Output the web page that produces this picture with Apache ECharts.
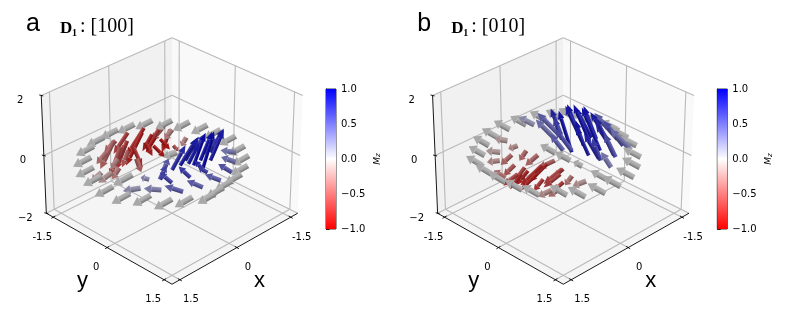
<!DOCTYPE html>
<html>
<head>
<meta charset="utf-8">
<style>html,body{margin:0;background:#fff}#main{width:793px;height:324px}</style>
<script src="https://cdn.jsdelivr.net/npm/echarts@6/dist/echarts.min.js"></script>
</head>
<body>
<div id="main"></div>
<script>
// axis setup
const ticksXY = [-1.5, 0, 1.5];
const tickLabelsXY = ['-1.5', '0', '1.5'];
const ticksZ = [-2, 0, 2];
const tickLabelsZ = ['\u22122', '0', '2'];
const colorTicks = [-1, -0.5, 0, 0.5, 1];
const limXY = 1.7;
const limZ = 2;
const readScale = 1.7 / 1.5;
const readDepth = 0.098;

// outer ring, panel a: tail x, y
const ringA = [[1.255,.305],[1.056,.576],[.887,.887],[.62,1.08],[.294,1.266],[.076,1.244],[-.15,1.21],[-.41,1.19],
  [-.668,1.088],[-.9,.9],[-1.07,.65],[-1.185,.335],[-1.15,.017],[-1.1,-.247],[-.957,-.533],[-.78,-.78],[-.54,-1.02],
  [-.235,-1.145],[.08,-1.22],[.41,-1.21],[.725,-1.125],[.98,-.91],[1.154,-.658],[1.235,-.385],[1.31,-.03]];
const ringDirA = [.4, 0, 0];
// x, y, u, v, w (w is also Mz)
const redA = [[.35,-.99,.11,-.17,-.45],[.7,-.84,.12,-.12,-.4],[.03,-1.03,.2,-.15,-.7],[.355,-.775,.155,-.095,-.7],
  [.7,-.56,.11,-.05,-.3],[-.265,-.94,.29,-.14,-.85],[.41,-.62,.09,-.06,-.55],[.28,-.63,-.17,.03,-.8],
  [-.22,-.7,-.08,-.32,-.9],[.034,-.6,-.35,-.19,-.9],[-.19,-.59,-.15,-.39,-.95],[-.54,-.74,.165,-.145,-.5],
  [.01,-.43,-.48,-.2,-.95],[1.165,-.455,.17,-.06,-.2],[1.045,-.335,.245,-.065,-.2],[.87,-.35,.105,-.065,-.35],
  [-.57,-.57,.12,-.06,-.3],[-.215,-.495,-.49,-.26,-.95],[-.56,-.22,.06,-.06,-.3],[-.23,-.2,-.32,-.2,-.6],
  [-.143,-.857,.35,-.04,-.9],[.213,-.853,.31,.04,-.75],[.37,-1.01,.45,.14,-.5],[-.407,-.727,.12,-.19,-.75],
  [-.543,-.591,.07,-.13,-.85],[.486,-.346,-.08,.03,-.5],[.43,-.79,.39,.15,-.6]];
const grayInnerA = [[-.125,-.015,.26,-.05,0],[.855,-.055,.43,0,0]];
const blueA = [[.305,.305,-.175,.135,.8],[.116,.304,-.21,.18,.9],[-.013,.367,.01,.25,.9],[-.04,.46,-.19,.08,1],
  [-.045,.655,-.32,-.05,1],[-.34,.553,-.24,.07,.9],[-.425,.355,0,.23,.7],[.64,.36,.04,.19,.65],[.25,.67,.34,.07,.7],
  [-.055,.765,.44,.21,.7],[-.823,.683,.37,-.01,.35],[-.6,.88,.315,-.035,.4],[-.335,1.045,.33,0,.55],
  [-.037,1.077,.37,0,.5],[.31,1.01,.35,-.02,.5],[.62,.87,.39,-.03,.5],[.567,.567,.325,.05,.65],[.83,.59,.345,-.045,.3],
  [1.03,.317,.37,-.02,.2],[.76,.24,.2,.01,.25],[-.047,.26,-.125,.185,.85],[-.224,.436,-.15,.12,.95],
  [-.517,.377,-.125,.185,.85],[-.32,.18,-.07,.21,.75],[.42,.22,0,.12,.5],[-.05,.69,.4,.17,.8]];

// outer ring, panel b: tail x, y
const ringB = [[-.57,-.99],[-.227,-1.12],[.076,-1.21],[.39,-1.17],[.665,-1.09],[.918,-.918],[1.15,-.724],[1.21,-.43],
  [1.216,-.11],[1.177,.243],[1.086,.546],[.773,.859],[.6,1.1],[.305,1.255],[-.01,1.29],[-.35,1.27],[-.636,1.136],
  [-.871,.941],[-1.08,.654],[-1.16,.38],[-1.217,.083],[-.8,-.83],[-.99,-.71],[-1.08,-.48],[-1.19,-.2]];
const ringDirB = [0, -.4, 0];
const grayInnerB = [[.037,-.151,0,-.36,0],[.024,.188,0,-.36,0],[.007,.447,0,-.2,0],[0,.99,0,-.36,0]];
const redB = [[.343,-.983,.017,-.297,-.15],[.67,-.81,.05,-.3,-.15],[.846,-.634,.037,-.277,-.25],[1.12,-.2,-.235,-.545,-.4],
  [.327,-.753,.03,-.2,-.25],[.59,-.618,.07,-.2,-.45],[.33,-.54,.02,-.15,-.45],[.284,-.312,.1,-.2,-.45],
  [.765,-.365,.02,-.25,-.55],[.697,-.197,-.03,-.27,-.7],[.206,.006,.045,-.345,-.5],[.367,-.013,.08,-.35,-.85],
  [.7,.08,-.005,-.395,-.9],[.876,-.096,-.07,-.34,-.85],[.726,.266,-.1,-.33,-.75],[.425,.355,.045,-.345,-.7],
  [.705,.635,.07,-.2,-.4],[.284,.284,-.22,-.42,-.75],[.325,.525,.03,-.13,-.4],[.27,.79,.14,-.17,-.2],
  [.553,.553,-.2,-.4,-.75],[.843,.577,.14,-.17,-.25],[.46,-.04,.155,-.355,-.85],[.3,.268,.1,-.33,-.7],
  [.728,-.088,-.05,-.36,-.85],[.915,-.135,-.01,-.36,-.7]];
const blueB = [[-.298,.298,.105,-.205,.9],[-.68,-.32,.12,-.15,.95],[-.75,.04,.035,-.275,.95],[-.727,-.053,.145,-.245,.95],
  [-.33,.54,.07,-.13,.7],[-.853,.213,.165,-.265,.9],[-.92,.497,.07,-.4,.6],[-.577,.647,.01,-.26,.6],[-.303,.803,.01,-.22,.35],
  [-.206,-.006,.105,-.285,.6],[-.276,-.504,.075,-.355,.4],[-.324,-1.024,.14,-.25,.2],[-.465,-.535,.13,-.1,.85],
  [-.34,-.37,.07,-.13,.7],[-.106,-.106,.11,-.2,.5],[-1,.295,.015,-.535,.5],[-.93,.65,.06,-.41,.4],[-.766,.34,.21,-.14,.8],
  [-.453,.027,.155,-.04,.95],[-.345,.485,.175,-.175,.85],[-.17,.03,-.145,-.455,.95],[-.6,.034,-.03,-.42,.95],
  [-.54,.33,-.12,-.55,.95],[-.54,-.1,.005,-.385,.9],[-.592,.592,-.075,-.505,.85],[-.39,-.46,.085,-.465,.5]];

// view: elev 30, azim 45, weak perspective
const camDist = 19;
const el = 30 * Math.PI / 180, az = 45 * Math.PI / 180;
const eyeW = [Math.cos(el) * Math.cos(az), Math.cos(el) * Math.sin(az), Math.sin(el)];
const eyeU = [-Math.sin(az), Math.cos(az), 0];
const eyeV = [-Math.sin(el) * Math.cos(az), -Math.sin(el) * Math.sin(az), Math.cos(el)];
function dot(a, b) { return a[0] * b[0] + a[1] * b[1] + a[2] * b[2]; }
function norm(x, y, z) { return [x / limXY, y / limXY, z / limZ * 0.75]; }
function project(x, y, z) {
  const p = norm(x, y, z);
  const d = 1 - dot(p, eyeW) / camDist;
  return [dot(p, eyeU) / d, dot(p, eyeV) / d];
}
function depth(x, y, z) { return dot(norm(x, y, z), eyeW); }

function buildArrows(ring, ringDir, rest) {
  let list = ring.map(function (r) { return [r[0], r[1], ringDir[0], ringDir[1], ringDir[2]]; }).concat(rest);
  list = list.map(function (a) {
    const s = (a[0] + a[1]) / 2 * readDepth, t = (a[2] + a[3]) / 2 * readDepth;
    return [(a[0] + s) * readScale, (a[1] + s) * readScale, (a[2] + t) * readScale, (a[3] + t) * readScale, a[4]];
  });
  // far arrows first
  list.sort(function (p, q) {
    return depth(p[0] + p[2] / 2, p[1] + p[3] / 2, p[4] / 2) - depth(q[0] + q[2] / 2, q[1] + q[3] / 2, q[4] / 2);
  });
  return list;
}

function mix(a, b, t) { return [0, 1, 2].map(function (i) { return a[i] + (b[i] - a[i]) * t; }); }
function rgb(c) { return 'rgb(' + c.map(Math.round).join(',') + ')'; }
function arrowColor(mz) {
  const end = mz > 0 ? [10, 10, 155] : [158, 12, 12];
  return mix([168, 168, 168], end, Math.min(1, Math.abs(mz)));
}

function renderArrow(params, api) {
  const x = api.value(0), y = api.value(1), u = api.value(2), v = api.value(3), w = api.value(4);
  const t = api.coord(project(x, y, 0));
  const h = api.coord(project(x + u, y + v, w));
  const dx = h[0] - t[0], dy = h[1] - t[1];
  const len = Math.sqrt(dx * dx + dy * dy) || 1;
  const ex = dx / len, ey = dy / len;
  let nx = -ey, ny = ex;
  if (ny > 0) { nx = -nx; ny = -ny; } // n points up on screen
  const thin = (1 - 0.4 * Math.abs(w)) * Math.min(1, 0.5 + len / 22);
  const sw = 2.9 * thin, hw = 5.2 * thin;
  const hl = Math.min(len * 0.42, 8.5);
  const bx = h[0] - ex * hl, by = h[1] - ey * hl;
  const base = arrowColor(w);
  const shade = new echarts.graphic.LinearGradient(
    bx + nx * sw, by + ny * sw, bx - nx * sw, by - ny * sw,
    [{ offset: 0, color: rgb(mix(base, [255, 255, 255], 0.18)) },
     { offset: 0.5, color: rgb(base) },
     { offset: 1, color: rgb(mix(base, [0, 0, 0], 0.32)) }], true);
  return {
    type: 'group',
    children: [
      { type: 'polygon',
        shape: { points: [[t[0] + nx * sw, t[1] + ny * sw], [bx + nx * sw, by + ny * sw], [bx - nx * sw, by - ny * sw], [t[0] - nx * sw, t[1] - ny * sw]] },
        style: { fill: shade } },
      { type: 'polygon',
        shape: { points: [[bx + nx * hw, by + ny * hw], [h[0], h[1]], [bx - nx * hw, by - ny * hw]] },
        style: { fill: rgb(base) } }
    ]
  };
}

function renderFrame(params, api) {
  const pt = function (x, y, z) { return api.coord(project(x, y, z)); };
  const L = limXY, Z = limZ;
  const kids = [];
  function pane(a, b, c, d, fill) {
    kids.push({ type: 'polygon', shape: { points: [pt.apply(null, a), pt.apply(null, b), pt.apply(null, c), pt.apply(null, d)] }, style: { fill: fill } });
  }
  function seg(a, b, color, width) {
    const p = pt.apply(null, a), q = pt.apply(null, b);
    kids.push({ type: 'line', shape: { x1: p[0], y1: p[1], x2: q[0], y2: q[1] }, style: { stroke: color, lineWidth: width } });
  }
  function label(a, ox, oy, text) {
    const p = pt.apply(null, a);
    kids.push({ type: 'text', style: { x: p[0] + ox, y: p[1] + oy, text: text, fill: '#000', font: '10px "DejaVu Sans"', align: 'center', verticalAlign: 'middle' } });
  }
  pane([L, -L, -Z], [-L, -L, -Z], [-L, -L, Z], [L, -L, Z], '#f1f1f1');
  pane([-L, -L, -Z], [-L, L, -Z], [-L, L, Z], [-L, -L, Z], '#f9f9f9');
  pane([L, -L, -Z], [L, L, -Z], [-L, L, -Z], [-L, -L, -Z], '#f5f5f5');
  const gridCol = '#b9b9b9';
  ticksXY.forEach(function (t) {
    seg([t, -L, -Z], [t, -L, Z], gridCol, 1.1);
    seg([t, L, -Z], [t, -L, -Z], gridCol, 1.1);
    seg([-L, t, -Z], [-L, t, Z], gridCol, 1.1);
    seg([L, t, -Z], [-L, t, -Z], gridCol, 1.1);
  });
  ticksZ.forEach(function (t) {
    seg([L, -L, t], [-L, -L, t], gridCol, 1.1);
    seg([-L, -L, t], [-L, L, t], gridCol, 1.1);
  });
  seg([L, -L, -Z], [L, -L, Z], '#000', 0.9);
  seg([L, -L, -Z], [L, L, -Z], '#000', 0.9);
  seg([L, L, -Z], [-L, L, -Z], '#000', 0.9);
  ticksZ.forEach(function (t, i) {
    const p = pt(L, -L, t);
    kids.push({ type: 'line', shape: { x1: p[0] - 2, y1: p[1] - 0.5, x2: p[0] + 2, y2: p[1] + 0.5 }, style: { stroke: '#000', lineWidth: 0.9 } });
    label([L, -L, t], -21, 5, tickLabelsZ[i]);
  });
  ticksXY.forEach(function (t, i) {
    let p = pt(L, t, -Z);
    kids.push({ type: 'line', shape: { x1: p[0] - 2, y1: p[1] + 1.2, x2: p[0] + 2, y2: p[1] - 1.2 }, style: { stroke: '#000', lineWidth: 0.9 } });
    label([L, t, -Z], -11, 20, tickLabelsXY[i]);
    p = pt(t, L, -Z);
    kids.push({ type: 'line', shape: { x1: p[0] + 2, y1: p[1] + 1.2, x2: p[0] - 2, y2: p[1] - 1.2 }, style: { stroke: '#000', lineWidth: 0.9 } });
    label([t, L, -Z], 11, 20, tickLabelsXY[i]);
  });
  return { type: 'group', children: kids };
}

function renderColorbar(params, api) {
  const a = api.coord([0, api.value(1)]);
  const b = api.coord([1, api.value(0)]);
  return {
    type: 'rect',
    shape: { x: a[0], y: a[1], width: b[0] - a[0], height: b[1] - a[1] },
    style: { fill: new echarts.graphic.LinearGradient(0, 0, 0, 1, [
      { offset: 0, color: '#0000ff' }, { offset: 0.5, color: '#ffffff' }, { offset: 1, color: '#ff0000' }]) }
  };
}

const panels = [
  { off: 0, letter: 'a', title: '[100]', arrows: buildArrows(ringA, ringDirA, redA.concat(grayInnerA, blueA)) },
  { off: 391.3, letter: 'b', title: '[010]', arrows: buildArrows(ringB, ringDirB, redB.concat(grayInnerB, blueB)) }
];

const option = { animation: false, backgroundColor: '#fff', grid: [], xAxis: [], yAxis: [], series: [], graphic: [] };
panels.forEach(function (p, i) {
  const g3 = i * 2, gc = i * 2 + 1;
  // hidden axes that hold the projected box
  option.grid.push({ left: 27 + p.off, top: 28.6, width: 290, height: 281 });
  option.xAxis.push({ gridIndex: g3, type: 'value', min: -1.6, max: 1.6, show: false });
  option.yAxis.push({ gridIndex: g3, type: 'value', min: -1.7, max: 1.4, show: false });
  option.series.push({ type: 'custom', xAxisIndex: g3, yAxisIndex: g3, coordinateSystem: 'cartesian2d', clip: false, silent: true,
    data: [[0, 0]], renderItem: renderFrame, z: 1 });
  option.series.push({ type: 'custom', xAxisIndex: g3, yAxisIndex: g3, coordinateSystem: 'cartesian2d', clip: false, silent: true,
    data: p.arrows, encode: { x: 0, y: 1 }, renderItem: renderArrow, z: 2 });
  // colorbar
  option.grid.push({ left: 326 + p.off, top: 89, width: 10, height: 140, show: true, borderColor: '#000', borderWidth: 0.8, backgroundColor: 'transparent' });
  option.xAxis.push({ gridIndex: gc, type: 'value', min: 0, max: 1, show: false });
  option.yAxis.push({ gridIndex: gc, type: 'value', position: 'right', min: -1, max: 1, interval: 0.5,
    axisLine: { show: true, lineStyle: { color: '#000', width: 0.8 } },
    axisTick: { show: true, length: 3.5, lineStyle: { color: '#000', width: 0.8 } },
    splitLine: { show: false }, minorTick: { show: false },
    axisLabel: { color: '#000', fontFamily: 'DejaVu Sans', fontSize: 10, margin: 5,
      customValues: colorTicks,
      formatter: function (v) { return v.toFixed(1).replace('-', '\u2212'); } },
    name: '{i|M}{s|z}', nameLocation: 'middle', nameGap: 37, nameRotate: 90,
    nameTextStyle: { rich: { i: { fontFamily: 'DejaVu Sans', fontStyle: 'italic', fontSize: 9, color: '#000' },
      s: { fontFamily: 'DejaVu Sans', fontStyle: 'italic', fontSize: 7, color: '#000', verticalAlign: 'bottom' } } } });
  option.series.push({ type: 'custom', xAxisIndex: gc, yAxisIndex: gc, coordinateSystem: 'cartesian2d', silent: true,
    data: [[colorTicks[0], colorTicks[colorTicks.length - 1]]], encode: { y: [0, 1] }, renderItem: renderColorbar, z: 1 });
  // panel letter and title
  option.graphic.push({ type: 'text', left: 26 + p.off, top: 12, style: { text: p.letter, font: '25px "Liberation Sans"', fill: '#000' } });
  option.graphic.push({ type: 'text', left: 60 + p.off, top: 20, style: { text: 'D', font: 'bold 17px "Liberation Serif"', fill: '#000' } });
  option.graphic.push({ type: 'text', left: 72 + p.off, top: 28, style: { text: '1', font: 'bold 10px "Liberation Serif"', fill: '#000' } });
  option.graphic.push({ type: 'text', left: 80 + p.off, top: 17, style: { text: ': ' + p.title, font: '20px "Liberation Serif"', fill: '#000' } });
  option.graphic.push({ type: 'text', left: 77 + p.off, top: 270, style: { text: 'y', font: '22px "Liberation Sans"', fill: '#000' } });
  option.graphic.push({ type: 'text', left: 254 + p.off, top: 270, style: { text: 'x', font: '22px "Liberation Sans"', fill: '#000' } });
});

const chart = echarts.init(document.getElementById('main'), null, { renderer: 'canvas' });
chart.setOption(option);
</script>
</body>
</html>
